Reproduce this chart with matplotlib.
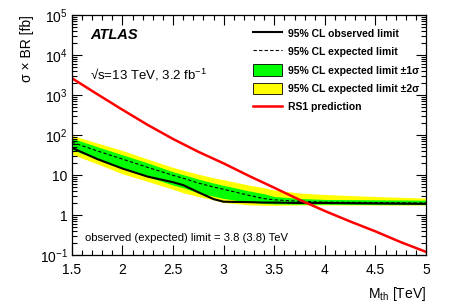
import matplotlib
matplotlib.use('Agg')
import matplotlib.pyplot as plt
from matplotlib.ticker import MultipleLocator, LogLocator, FixedLocator, NullFormatter
from matplotlib.lines import Line2D
from matplotlib.patches import Patch

plt.rcParams['font.family'] = ['Liberation Sans', 'DejaVu Sans']
plt.rcParams['mathtext.fontset'] = 'custom'
plt.rcParams['mathtext.rm'] = 'Liberation Sans'
plt.rcParams['mathtext.it'] = 'Liberation Sans:italic'
plt.rcParams['mathtext.bf'] = 'Liberation Sans:bold'

# limit values [fb]
mass = [1.5, 1.75, 2.0, 2.25, 2.5, 2.6, 2.75, 2.9, 3.0, 3.25, 3.4, 3.5, 3.75, 4.0, 4.5, 5.0]
observed = [47.9, 25.1, 14.5, 9.1, 6.6, 5.6, 3.7, 2.5, 2.15, 2.1, 2.05, 2.05, 2.0, 2.0, 1.95, 1.9]
expected = [66, 40, 25, 15.5, 9.8, 8.3, 6.3, 5.0, 4.4, 3.1, 2.57, 2.4, 2.2, 2.1, 2.05, 2.0]
one_up = [83, 51, 32, 20, 12, 10.2, 7.9, 6.3, 5.5, 4.0, 3.4, 2.9, 2.6, 2.45, 2.4, 2.35]
one_dn = [43, 25, 14.8, 9.1, 5.6, 4.8, 3.6, 2.95, 2.6, 2.1, 1.95, 1.9, 1.86, 1.86, 1.82, 1.82]
two_up = [98, 63, 41, 25, 15.5, 13.2, 10.5, 8.5, 7.6, 5.6, 4.8, 4.2, 3.55, 3.25, 2.9, 2.65]
two_dn = [33, 19, 10.7, 6.9, 4.4, 3.6, 2.9, 2.4, 2.05, 1.8, 1.75, 1.75, 1.78, 1.78, 1.78, 1.78]

rs1_mass = [1.5, 1.75, 2.0, 2.25, 2.5, 2.75, 3.0, 3.25, 3.5, 3.75, 4.0, 4.25, 4.5, 4.75, 5.0]
rs1_xsec = [2630, 1050, 427, 178, 79.4, 38, 19.5, 9.5, 4.8, 2.4, 1.26, 0.69, 0.39, 0.21, 0.12]

fig = plt.figure(figsize=(4.49, 3.04), dpi=100)
ax = fig.add_axes([0.160, 0.161, 0.789, 0.790])

ax.fill_between(mass, two_dn, two_up, color='#ffff00', lw=0)
ax.fill_between(mass, one_dn, one_up, color='#00ff00', lw=0)
ax.plot(mass, expected, color='black', ls=(0, (3, 2)), lw=0.8)
ax.plot(mass, observed, color='black', lw=1.5)
ax.plot(rs1_mass, rs1_xsec, color='#ff0000', lw=1.8)

ax.set_yscale('log')
ax.set_xlim(1.5, 5.0)
ax.set_ylim(0.1, 1e5)

ax.xaxis.set_minor_locator(MultipleLocator(0.1))
ax.set_xticks([1.5, 2, 2.5, 3, 3.5, 4, 4.5, 5])
ax.set_xticklabels(['1.5', '2', '2.5', '3', '3.5', '4', '4.5', '5'])
ax.yaxis.set_major_locator(FixedLocator([0.1, 1, 10, 100, 1e3, 1e4, 1e5]))
ax.set_yticklabels(['$10^{-1}$', '1', '10', '$10^{2}$', '$10^{3}$', '$10^{4}$', '$10^{5}$'])
ax.yaxis.set_minor_locator(LogLocator(base=10, subs=range(2, 10), numticks=20))
ax.yaxis.set_minor_formatter(NullFormatter())

ax.tick_params(which='both', direction='in', top=True, right=True, labelsize=10, width=0.8)
ax.tick_params(which='major', length=7)
ax.tick_params(which='minor', length=3.5)
ax.tick_params(axis='x', pad=5.5)
ax.tick_params(axis='y', pad=3)
for s in ax.spines.values():
    s.set_linewidth(0.9)

ax.set_xlabel('M$_{\\mathrm{th}}$ [TeV]', fontsize=10, loc='right', labelpad=6)
ax.set_ylabel('σ × BR [fb]', fontsize=10, loc='top')

ax.text(0.052, 0.915, 'ATLAS', transform=ax.transAxes, fontsize=10.5,
        fontweight='bold', style='italic', va='center')
ax.text(0.05, 0.75, '√s=13 TeV, 3.2 fb$^{-1}$', transform=ax.transAxes,
        fontsize=9.5, va='center')
ax.text(0.037, 0.07, 'observed (expected) limit = 3.8 (3.8) TeV', transform=ax.transAxes,
        fontsize=8.1, va='center')

handles = [Line2D([], [], color='black', lw=1.5),
           Line2D([], [], color='black', ls=(0, (3, 2)), lw=0.8),
           Patch(facecolor='#00ff00', edgecolor='black', lw=0.6),
           Patch(facecolor='#ffff00', edgecolor='black', lw=0.6),
           Line2D([], [], color='#ff0000', lw=1.8)]
labels = ['95% CL observed limit', '95% CL expected limit',
          '95% CL expected limit ±1σ', '95% CL expected limit ±2σ', 'RS1 prediction']
ax.legend(handles, labels, loc='upper left', bbox_to_anchor=(0.5, 0.965), frameon=False,
          prop={'size': 7.5, 'weight': 'bold'}, handlelength=2.8, handleheight=1.3,
          labelspacing=0.68, handletextpad=0.5, borderaxespad=0)

fig.savefig('out.png', dpi=100)
